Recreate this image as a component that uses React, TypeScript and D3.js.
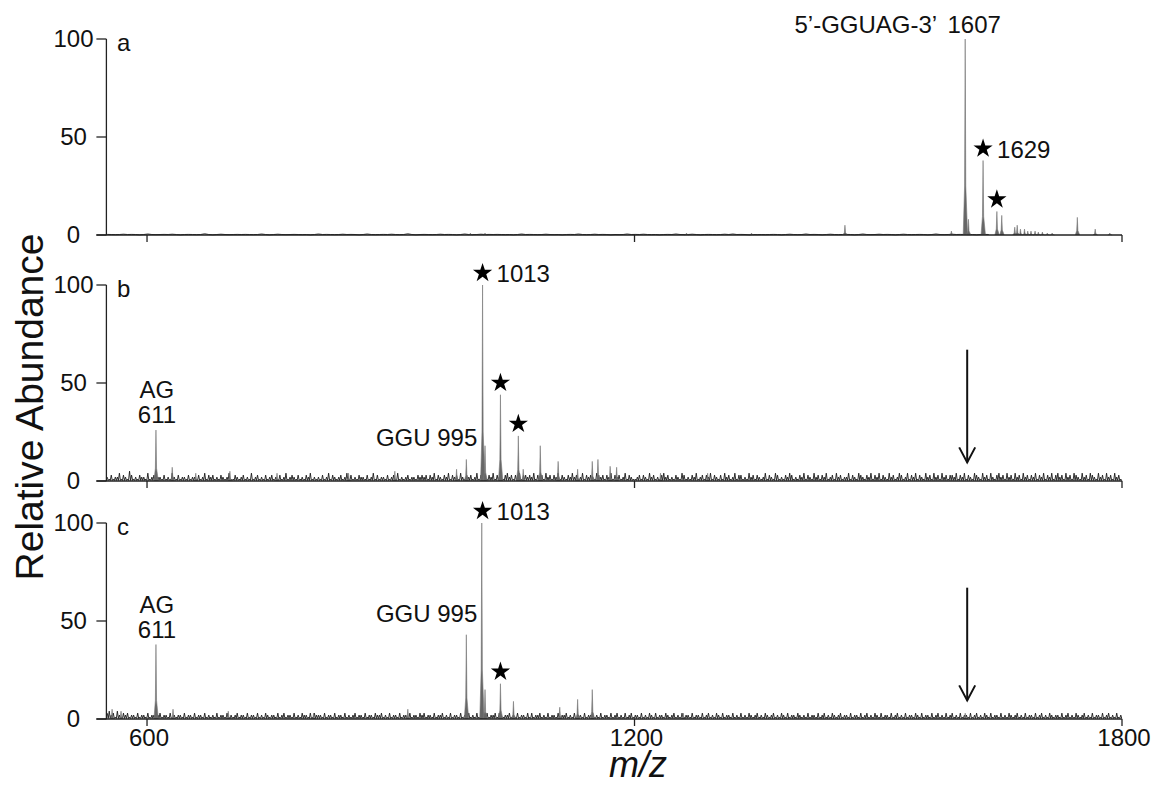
import * as d3 from 'd3'

const WIDTH = 1151
const HEIGHT = 785
const FONT = '"Liberation Sans", Arial, Helvetica, sans-serif'

// m/z axis
const MZ_DOMAIN: [number, number] = [550, 1800]
const MZ_TICKS = [600, 1200, 1800]
const ABUND_TICKS = [0, 50, 100]

// panel tops in px, each panel is PANEL_H tall
const PANEL_TOPS = [39, 285, 523]
const PANEL_H = 196
const LETTERS = ['a', 'b', 'c']

// panel a: intact 5'-GGUAG-3'
const PEAK_MZ_A = [998, 1016, 1264, 1344, 1459, 1590, 1607, 1611, 1629, 1646, 1652, 1668, 1671, 1675, 1680, 1684, 1688, 1693, 1697, 1702, 1708, 1714, 1745, 1767, 1785]
const PEAK_INT_A = [1, 1, 1, 1, 5, 2, 100, 8, 38, 12, 10, 4, 5, 3, 3, 2, 2, 2, 1.5, 1.5, 1, 1, 9, 3, 1]
// baseline noise, tenths of a percent, every 10 m/z
const NOISE_A = '3243152341326142332514232153243152342613243152433215324213524312534213524132453122314253142315243142315243213'

// panel b
const PEAK_MZ_B = [611, 631, 660, 702, 760, 848, 905, 981, 993, 1013, 1016, 1035, 1057, 1063, 1084, 1106, 1130, 1148, 1155, 1170, 1178, 1232, 1290]
const PEAK_INT_B = [26, 7, 4, 5, 4, 4, 5, 6, 11, 100, 18, 44, 23, 6, 18, 10, 6, 10, 11, 7.5, 7, 4, 4]
// baseline noise, percent, every 2.5 m/z
const NOISE_B =
  '2131224132153121322141231221312142131221312213124132' +
  '3121321241132123121412312131231213124123213121324121' +
  '2131241321231241312132213124131221312314121231221323' +
  '2313241321324132314213231241323132413221342313241332' +
  '3241323142313241321324231241323214323132413231241321' +
  '1231321423121342312132143121324123132413213142312413' +
  '3121423132124132143121324312132413214231324123142312' +
  '2413214321324132413214231243124132413214231423142313' +
  '3241324132143214231421342314231423142313241324132413' +
  '4231423143214231432142314231423142314231423142314231'

// panel c
const PEAK_MZ_C = [557, 568, 611, 632, 700, 805, 921, 993, 1012, 1016, 1035, 1051, 1108, 1130, 1148, 1260, 1607]
const PEAK_INT_C = [5, 4, 38, 5, 4, 3, 5, 43, 100, 15, 18, 9, 6, 10, 15, 3, 3]
const NOISE_C =
  '3423142132312213122131221231221312122131221312213121' +
  '2131221312123122131221312132122131231221312132213132' +
  '2213122131221312123122131221322312131221312213122132' +
  '3122131223121312213122312131221312231321223121312213' +
  '1312231213122131223121312213122312131221312312131231' +
  '2213121321312213212312131221312213123121321312213121' +
  '3121321231213212312132131221321213122131231213212312' +
  '2131221312312132131221312312131221321312213123121312' +
  '3121312213123121321312213121321231213122131231213212' +
  '2131231213212312131221312312131221321312312131221312'

const PANELS = [
  { mz: PEAK_MZ_A, int: PEAK_INT_A, noise: NOISE_A, step: 10, unit: 0.1 },
  { mz: PEAK_MZ_B, int: PEAK_INT_B, noise: NOISE_B, step: 2.5, unit: 1 },
  { mz: PEAK_MZ_C, int: PEAK_INT_C, noise: NOISE_C, step: 2.5, unit: 1 },
]

// annotated peaks
const STARS = [
  { panel: 0, mz: 1629, int: 38, label: '1629' },
  { panel: 0, mz: 1646, int: 12, label: '' },
  { panel: 1, mz: 1013, int: 100, label: '1013' },
  { panel: 1, mz: 1035, int: 44, label: '' },
  { panel: 1, mz: 1057, int: 23, label: '' },
  { panel: 2, mz: 1013, int: 100, label: '1013' },
  { panel: 2, mz: 1035, int: 18, label: '' },
]
const AG_LABELS = [
  { panel: 1, mz: 611, int: 26 },
  { panel: 2, mz: 611, int: 38 },
]
const GGU_LABELS = [
  { panel: 1, mz: 993, int: 11 },
  { panel: 2, mz: 993, int: 43 },
]
const ARROW_MZ = 1607
const ARROW_PANELS = [1, 2]

export default function App() {
  const x = d3.scaleLinear().domain(MZ_DOMAIN).range([106.4, 1122])
  const yScales = PANEL_TOPS.map(top =>
    d3.scaleLinear().domain([0, 100]).range([top + PANEL_H, top])
  )
  const star = d3.symbol().type(d3.symbolStar).size(115)() || ''
  const line = d3.line<[number, number]>().x(d => d[0]).y(d => d[1])

  return (
    <svg
      width={WIDTH}
      height={HEIGHT}
      style={{ position: 'absolute', left: 0, top: 0, background: '#fff', fontFamily: FONT }}
    >
      <rect width={WIDTH} height={HEIGHT} fill="#fff" />

      {PANELS.map((p, pi) => {
        const y = yScales[pi]
        const y0 = y(0)

        // noise trace: each value is a hair rising from the baseline
        const pts: [number, number][] = []
        p.noise.split('').forEach((c, i) => {
          const m = MZ_DOMAIN[0] + 1 + i * p.step
          if (m > MZ_DOMAIN[1] - 1) return
          pts.push([x(m), y(+c * p.unit)])
          pts.push([x(m + p.step * 0.5), y0 - 0.5])
        })

        return (
          <g key={pi}>
            <path d={line(pts) || ''} stroke="#1a1a1a" strokeWidth={0.9} fill="none" />
            {p.mz.map((m, i) => {
              const h = p.int[i]
              const cx = x(m)
              const peak: [number, number][] = [
                [cx - 2, y0],
                [cx - 0.6, y(h * 0.25)],
                [cx, y(h)],
                [cx + 0.6, y(h * 0.25)],
                [cx + 2.4, y0],
              ]
              return (
                <path key={i} d={line(peak) || ''} fill="#666" stroke="#777" strokeWidth={0.6} />
              )
            })}

            {/* axes */}
            <line x1={x(MZ_DOMAIN[0])} x2={x(MZ_DOMAIN[0])} y1={y(100)} y2={y0} stroke="#222" strokeWidth={1.3} />
            <line x1={x(MZ_DOMAIN[0]) - 10} x2={x(MZ_DOMAIN[1])} y1={y0} y2={y0} stroke="#222" strokeWidth={1.5} />
            {ABUND_TICKS.map(t => (
              <g key={t}>
                <line x1={x(MZ_DOMAIN[0]) - 10} x2={x(MZ_DOMAIN[0])} y1={y(t)} y2={y(t)} stroke="#222" strokeWidth={1.3} />
                <text x={73.5} y={y(t)} dy="0.35em" textAnchor="middle" fontSize={24} fill="#111">
                  {t}
                </text>
              </g>
            ))}
            {MZ_TICKS.map(t => (
              <line key={t} x1={x(t)} x2={x(t)} y1={y0} y2={y0 + 7} stroke="#222" strokeWidth={1.3} />
            ))}
            <text x={117} y={y(100) + 12} fontSize={24} fill="#111">
              {LETTERS[pi]}
            </text>
          </g>
        )
      })}

      {/* x tick labels on bottom panel */}
      {MZ_TICKS.map(t => (
        <text key={t} x={x(t) + 2} y={746} textAnchor="middle" fontSize={24} fill="#111">
          {t}
        </text>
      ))}

      {/* panel a main label */}
      <text x={x(1607) - 28} y={33} textAnchor="end" fontSize={24} fill="#111">
        5’-GGUAG-3’
      </text>
      <text x={x(1607) + 9} y={33} textAnchor="middle" fontSize={24} fill="#111">
        1607
      </text>

      {STARS.map((s, i) => {
        const sx = x(s.mz)
        const sy = yScales[s.panel](s.int) - 12
        return (
          <g key={i}>
            <path d={star} transform={`translate(${sx},${sy})`} fill="#000" />
            {s.label && (
              <text x={sx + 14} y={sy + 9} fontSize={24} fill="#111">
                {s.label}
              </text>
            )}
          </g>
        )
      })}

      {AG_LABELS.map((a, i) => {
        const ay = yScales[a.panel](a.int) - 7
        return (
          <g key={i}>
            <text x={x(a.mz) + 1} y={ay - 25} textAnchor="middle" fontSize={24} fill="#111">
              AG
            </text>
            <text x={x(a.mz) + 1} y={ay} textAnchor="middle" fontSize={24} fill="#111">
              611
            </text>
          </g>
        )
      })}

      {GGU_LABELS.map((g, i) => (
        <text
          key={i}
          x={x(g.mz) + 11}
          y={yScales[g.panel](g.int) - 13}
          textAnchor="end"
          fontSize={24}
          fill="#111"
        >
          GGU 995
        </text>
      ))}

      {ARROW_PANELS.map(pi => {
        const y = yScales[pi]
        const ax = x(ARROW_MZ) + 2
        const tip = y(9.5)
        return (
          <g key={pi} stroke="#111" strokeWidth={2} fill="none">
            <line x1={ax} x2={ax} y1={y(67)} y2={tip} />
            <path d={`M${ax - 8},${tip - 15}L${ax},${tip}L${ax + 8},${tip - 15}`} />
          </g>
        )
      })}

      <text
        transform="translate(43,407) rotate(-90)"
        textAnchor="middle"
        fontSize={39}
        fill="#111"
      >
        Relative Abundance
      </text>
      <text x={638} y={777} textAnchor="middle" fontSize={36} fontStyle="italic" fill="#111">
        m/z
      </text>
    </svg>
  )
}
